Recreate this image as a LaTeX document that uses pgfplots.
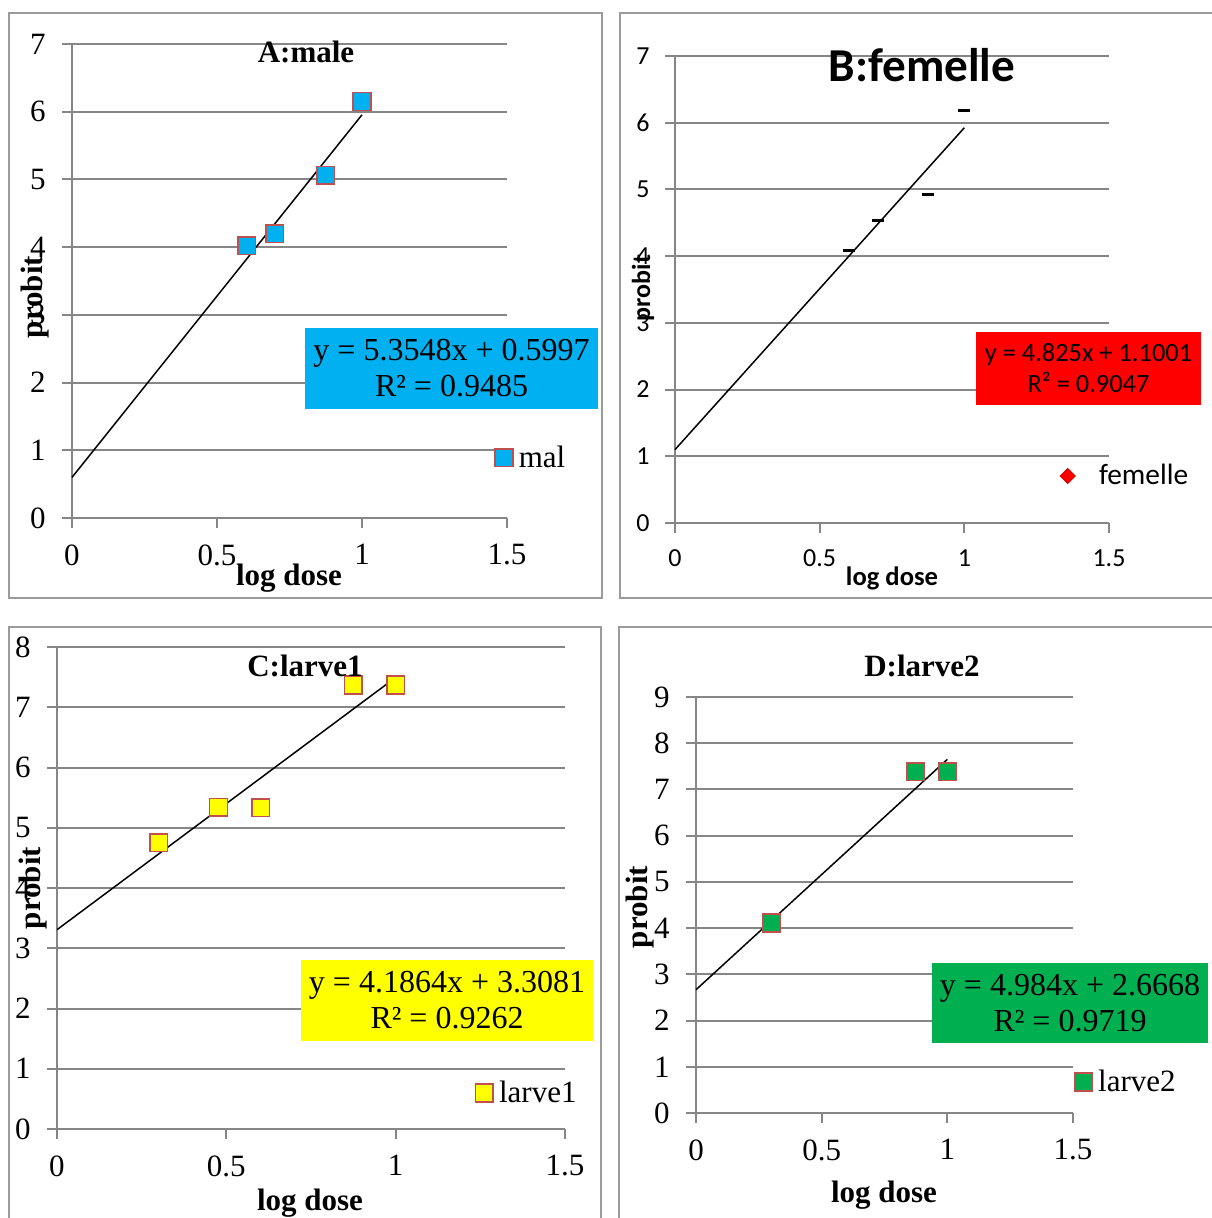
\documentclass[border=0pt]{standalone}
\usepackage{pgfplots}
\pgfplotsset{compat=1.18}
\usepackage{fontspec}
\setmainfont{Liberation Serif}
\newfontfamily\calibri{Carlito}

\definecolor{gridgray}{RGB}{134,134,134}
\definecolor{framegray}{RGB}{155,155,155}
\definecolor{mkred}{RGB}{192,80,77}
\definecolor{eqcyan}{RGB}{0,176,240}
\definecolor{eqred}{RGB}{255,0,0}
\definecolor{eqyellow}{RGB}{255,255,0}
\definecolor{eqgreen}{RGB}{0,176,80}

\newcommand\tnr{\fontsize{15.5}{18}\selectfont}
\newcommand\eqf{\fontsize{16}{18}\selectfont}

\pgfplotsset{
  probitaxis/.style={
    scale only axis,
    anchor=south west,
    xmin=0, xmax=1.5, ymin=0,
    axis x line*=bottom, axis y line*=left,
    axis line style={gridgray, line width=1pt},
    xtick={0,0.5,1,1.5},
    ytick distance=1,
    ymajorgrids,
    major grid style={gridgray, line width=1pt},
    tick style={gridgray, line width=1pt},
    tick align=outside,
    major tick length=5pt,
    /pgf/number format/assume math mode=true,
    ticklabel style={inner sep=0pt, black},
    xticklabel shift=8pt,
    yticklabel shift=8pt,
    clip=false,
    legend style={draw=none, fill=none, inner sep=0pt, anchor=west,
      nodes={inner sep=0pt}, column sep=3pt},
    legend cell align=left,
    legend image code/.code={\draw[##1] plot coordinates {(0pt,0pt)};},
  },
  sqmark/.style={only marks, mark=square*, mark size=4.4pt,
    mark options={fill=#1, draw=mkred, line width=0.75pt}},
  trend/.style={black, line width=0.75pt, forget plot},
}

\begin{document}
\begin{tikzpicture}
\useasboundingbox (0pt,0pt) rectangle (605.5pt,609pt);

% panel frames
\draw[framegray, line width=1pt] (4.5pt,602.5pt) rectangle (301pt,310pt);
\draw[framegray, line width=1pt] (310pt,602.5pt) rectangle (620pt,310pt);
\draw[framegray, line width=1pt] (4.5pt,295.5pt) rectangle (300.5pt,-15pt);
\draw[framegray, line width=1pt] (309.5pt,295.5pt) rectangle (620pt,-15pt);

% A: male
\begin{axis}[probitaxis, at={(36pt,350pt)}, width=217.5pt, height=237pt, ymax=7,
  ticklabel style={font=\tnr},
  legend style={at={(0.972,0.127)}, font=\tnr}]
\addplot[sqmark=eqcyan] coordinates {(0.602,4.02) (0.699,4.20) (0.875,5.06) (1.0,6.15)};
\addlegendentry{mal}
\addplot[trend] coordinates {(0,0.5997) (1,5.9545)};
\end{axis}
\node[font=\bfseries\tnr] at (153pt,583pt) {A:male};
\node[font=\bfseries\tnr] at (144.5pt,320pt) {log dose};
\node[font=\bfseries\tnr, rotate=90] at (17.5pt,460.5pt) {probit};
\node[fill=eqcyan, minimum width=146.5pt, minimum height=40.5pt, inner sep=0pt,
  align=center, font=\eqf] at (225.75pt,424.75pt) {y = 5.3548x + 0.5997\\R² = 0.9485};

% B: femelle
\begin{axis}[probitaxis, at={(337.5pt,347.5pt)}, width=217pt, height=233.5pt, ymax=7,
  ticklabel style={font=\calibri\fontsize{13}{15}\selectfont},
  yticklabel shift=7.5pt,
  legend style={at={(0.887,0.1006)}, font=\calibri\fontsize{14.7}{17}\selectfont, column sep=12pt}]
\addplot[only marks, mark=-, mark size=3pt, mark options={black, line width=1.5pt}, forget plot]
  coordinates {(0.601,4.08) (0.700,4.53) (0.875,4.93) (1.0,6.18)};
\addlegendimage{only marks, mark=square*, mark size=2.6pt,
  mark options={fill=red, draw=red!85!black, rotate=45, line width=0.5pt}}
\addlegendentry{femelle}
\addplot[trend] coordinates {(0,1.1001) (1,5.9251)};
\end{axis}
\node[font=\calibri\bfseries\fontsize{23.6}{26}\selectfont] at (461pt,576.5pt) {B:femelle};
\node[font=\calibri\bfseries\fontsize{13.3}{15}\selectfont] at (446pt,320pt) {log dose};
\node[font=\calibri\bfseries\fontsize{13}{15}\selectfont, rotate=90] at (321.5pt,465pt) {probit};
\node[fill=eqred, minimum width=112.5pt, minimum height=36.5pt, inner sep=0pt,
  align=center, font=\calibri\fontsize{13.2}{15.5}\selectfont] at (544.25pt,424.75pt)
  {y = 4.825x + 1.1001\\R² = 0.9047};

% C: larve1
\begin{axis}[probitaxis, at={(28.5pt,44.5pt)}, width=254pt, height=241pt, ymax=8,
  ticklabel style={font=\tnr},
  legend style={at={(0.823,0.0747)}, font=\tnr}]
\addplot[sqmark=eqyellow] coordinates {(0.301,4.75) (0.477,5.34) (0.602,5.33) (0.875,7.37) (1.0,7.37)};
\addlegendentry{larve1}
\addplot[trend] coordinates {(0,3.3081) (1,7.4945)};
\end{axis}
\node[font=\bfseries\tnr] at (152.5pt,276pt) {C:larve1};
\node[font=\bfseries\tnr] at (155pt,7.5pt) {log dose};
\node[font=\bfseries\tnr, rotate=90] at (16.5pt,165pt) {probit};
\node[fill=eqyellow, minimum width=146pt, minimum height=40.5pt, inner sep=0pt,
  align=center, font=\eqf] at (223.5pt,108.75pt) {y = 4.1864x + 3.3081\\R² = 0.9262};

% D: larve2
\begin{axis}[probitaxis, at={(348pt,52.5pt)}, width=188.5pt, height=208pt, ymax=9,
  ticklabel style={font=\tnr},
  legend style={at={(1.003,0.0745)}, font=\tnr}]
\addplot[sqmark=eqgreen] coordinates {(0.301,4.11) (0.875,7.38) (1.0,7.38)};
\addlegendentry{larve2}
\addplot[trend] coordinates {(0,2.6668) (1,7.6508)};
\end{axis}
\node[font=\bfseries\tnr] at (461pt,276pt) {D:larve2};
\node[font=\bfseries\tnr] at (442pt,11.5pt) {log dose};
\node[font=\bfseries\tnr, rotate=90] at (320pt,155.5pt) {probit};
\node[fill=eqgreen, minimum width=138pt, minimum height=40pt, inner sep=0pt,
  align=center, font=\eqf] at (535pt,107.5pt) {y = 4.984x + 2.6668\\R² = 0.9719};
\end{tikzpicture}
\end{document}
